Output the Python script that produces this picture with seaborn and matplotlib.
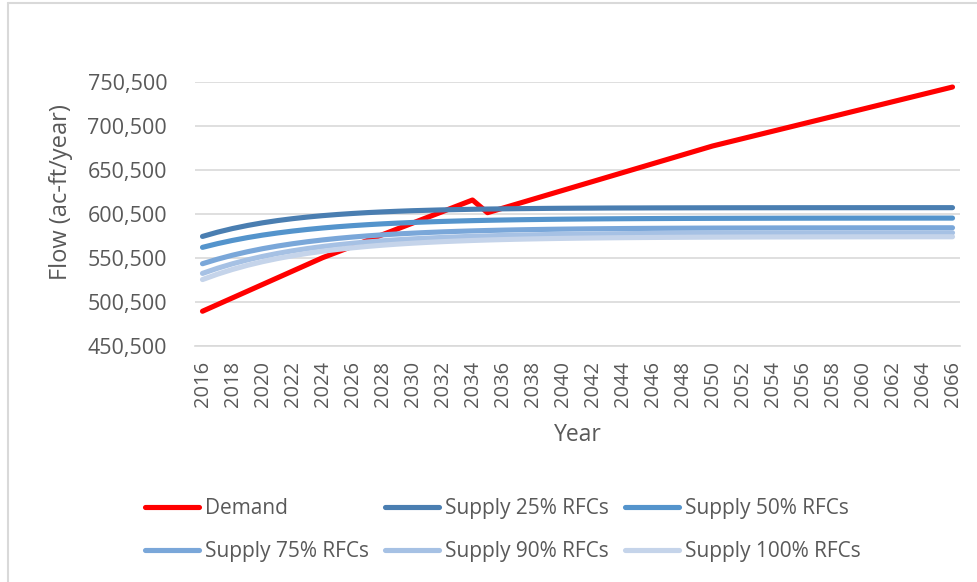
import matplotlib
matplotlib.use("Agg")
import matplotlib.pyplot as plt
import seaborn as sns
import pandas as pd
from matplotlib.ticker import FuncFormatter, FixedLocator
from matplotlib.lines import Line2D

years = list(range(2016, 2067))

demand = [490000, 497600, 505200, 512800, 520400, 528000, 535600, 543200, 550800,
          557360, 563900, 570500, 577000, 583600, 590100, 596700, 603200, 609800, 616400,
          602000, 607050, 612100, 617150, 622200, 627250, 632300, 637350, 642400, 647450,
          652500, 657550, 662600, 667650, 672700, 677750,
          681940, 686130, 690320, 694510, 698700, 702890, 707080, 711270, 715460, 719650,
          723840, 728030, 732220, 736410, 740600, 744790]

supply_25 = [575000, 579840, 583960, 587460, 590470, 593020, 595180, 597040, 598610, 599950,
             601090, 602080, 602890, 603610, 604230, 604720, 605180, 605540, 605870, 606130,
             606360, 606560, 606720, 606880, 607010, 607110, 607180, 607280, 607340, 607370,
             607430, 607460, 607500, 607530, 607560, 607580, 607600, 607610, 607620, 607640,
             607650, 607660, 607670, 607670, 607680, 607680, 607690, 607690, 607690, 607700,
             607700]

supply_50 = [562600, 566810, 570480, 573690, 576500, 578940, 581090, 582960, 584590, 586020,
             587270, 588360, 589310, 590140, 590870, 591500, 592060, 592540, 592970, 593340,
             593660, 593950, 594190, 594410, 594600, 594760, 594900, 595030, 595140, 595240,
             595320, 595390, 595460, 595510, 595560, 595600, 595640, 595670, 595700, 595730,
             595750, 595770, 595790, 595800, 595810, 595820, 595830, 595840, 595850, 595860,
             595860]

supply_75 = [544000, 549170, 553680, 557620, 561070, 564070, 566700, 569000, 571010, 572770,
             574300, 575640, 576810, 577830, 578720, 579500, 580180, 580780, 581300, 581760,
             582150, 582500, 582800, 583070, 583300, 583500, 583680, 583830, 583970, 584090,
             584190, 584280, 584360, 584430, 584490, 584540, 584580, 584620, 584660, 584690,
             584720, 584740, 584760, 584780, 584790, 584810, 584820, 584830, 584840, 584850,
             584850]

supply_90 = [533000, 538840, 543930, 548380, 552280, 555680, 558650, 561240, 563510, 565490,
             567230, 568740, 570060, 571210, 572220, 573100, 573870, 574540, 575130, 575650,
             576100, 576490, 576830, 577130, 577390, 577620, 577820, 577990, 578150, 578280,
             578400, 578500, 578590, 578660, 578730, 578790, 578840, 578890, 578930, 578960,
             578990, 579020, 579040, 579060, 579080, 579090, 579110, 579120, 579130, 579140,
             579150]

supply_100 = [526000, 532150, 537520, 542220, 546320, 549900, 553030, 555770, 558160, 560250,
              562080, 563670, 565060, 566280, 567340, 568270, 569090, 569790, 570410, 570960,
              571430, 571840, 572200, 572520, 572790, 573030, 573240, 573430, 573590, 573730,
              573850, 573960, 574050, 574140, 574210, 574270, 574320, 574370, 574410, 574450,
              574480, 574510, 574530, 574550, 574570, 574590, 574600, 574610, 574630, 574640,
              574640]

series_names = ["Demand", "Supply 25% RFCs", "Supply 50% RFCs",
                "Supply 75% RFCs", "Supply 90% RFCs", "Supply 100% RFCs"]
series_values = [demand, supply_25, supply_50, supply_75, supply_90, supply_100]
colors = ["#FF0000", "#4A7EB1", "#5494CC", "#7AA7D9", "#A6C1E4", "#C5D4EA"]

y_ticks = [450500, 500500, 550500, 600500, 650500, 700500, 750500]
x_ticks = list(range(2016, 2067, 2))

rows = []
for name, vals in zip(series_names, series_values):
    for yr, v in zip(years, vals):
        rows.append({"Year": yr, "Flow": v, "Series": name})
df = pd.DataFrame(rows)

sns.set_theme(style="white")
plt.rcParams['font.family'] = ['Open Sans', 'DejaVu Sans']

TXT = "#595959"
GRID = "#D9D9D9"

fig = plt.figure(figsize=(9.77, 5.82), dpi=100)
ax = fig.add_axes([195 / 977, 1 - 346 / 582, 765 / 977, 264 / 582])

sns.lineplot(data=df, x="Year", y="Flow", hue="Series", hue_order=series_names,
             palette=dict(zip(series_names, colors)), linewidth=3.7, ax=ax,
             legend=False, sort=True)
for ln in ax.lines:
    ln.set_solid_capstyle("round")
    ln.set_solid_joinstyle("round")

ax.set_xlim(2015.5, 2066.5)
ax.set_ylim(450500, 750500)
ax.yaxis.set_major_locator(FixedLocator(y_ticks))
ax.xaxis.set_major_locator(FixedLocator(x_ticks))
ax.yaxis.set_major_formatter(FuncFormatter(lambda v, p: f"{int(v):,}"))
ax.set_xticklabels([str(t) for t in x_ticks], rotation=90)
ax.grid(axis="y", color=GRID, linewidth=1.2)
ax.set_axisbelow(True)
for s in ["left", "right", "top"]:
    ax.spines[s].set_visible(False)
ax.spines["bottom"].set_color(GRID)
ax.spines["bottom"].set_linewidth(1.2)
ax.tick_params(axis="y", length=0, pad=20, labelsize=15.5, labelcolor=TXT)
ax.tick_params(axis="x", length=0, pad=11, labelsize=14.5, labelcolor=TXT)
ax.set_xlabel("")
ax.set_ylabel("")

fig.text(61 / 977, 1 - 192.5 / 582, "Flow (ac-ft/year)", rotation=90,
         ha="center", va="center", fontsize=17, color=TXT)
fig.text(578 / 977, 1 - 435 / 582, "Year", ha="center", va="center",
         fontsize=16.5, color=TXT)

# legend (column-wise order to get the row layout of the reference)
order = [0, 3, 1, 4, 2, 5]
handles = [Line2D([0], [0], color=colors[i], linewidth=3.7, solid_capstyle="round")
           for i in order]
labels = [series_names[i] for i in order]
fig.legend(handles, labels, ncol=3, loc="center left",
           bbox_to_anchor=(145 / 977, 1 - 530 / 582), bbox_transform=fig.transFigure,
           frameon=False, fontsize=15, labelcolor=TXT, handlelength=2.6,
           handletextpad=0.3, columnspacing=0.75, labelspacing=1.05,
           borderpad=0, borderaxespad=0)

# chart-area border
fig.add_artist(Line2D([8 / 977, 8 / 977], [0, 1 - 3 / 582], color=GRID, linewidth=1.5,
                      transform=fig.transFigure))
fig.add_artist(Line2D([8 / 977, 1], [1 - 3 / 582, 1 - 3 / 582], color=GRID, linewidth=1.5,
                      transform=fig.transFigure))

fig.savefig("out.png", dpi=100, facecolor="white")
